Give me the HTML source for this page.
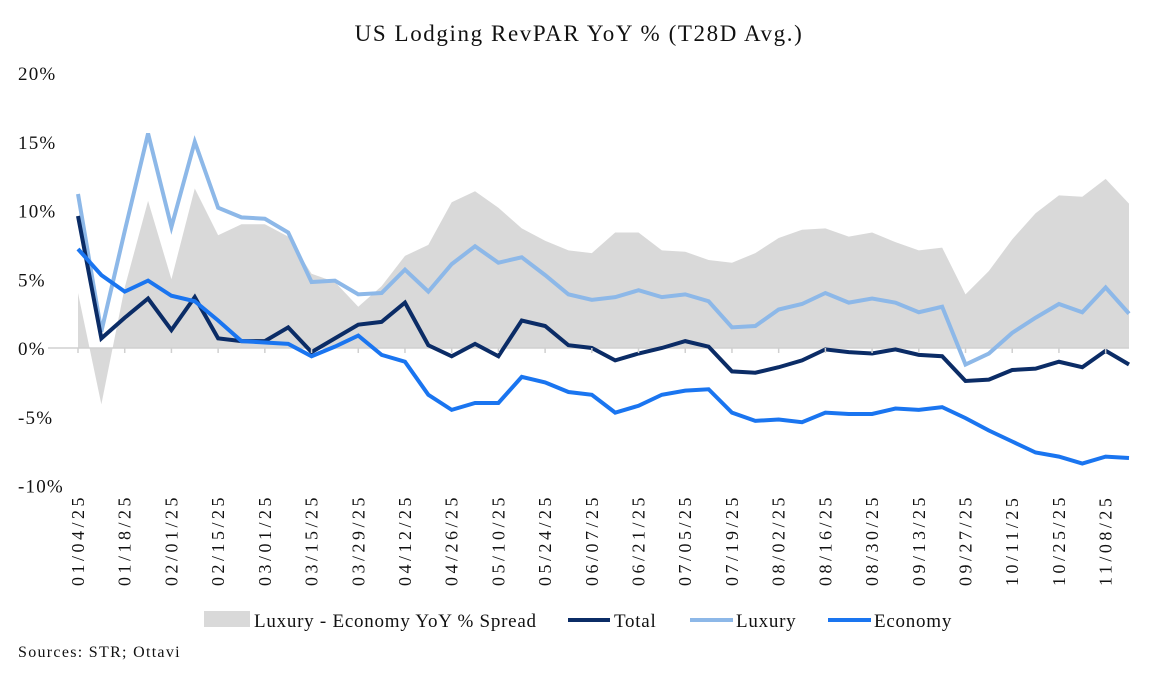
<!DOCTYPE html>
<html><head><meta charset="utf-8"><style>
body{margin:0;background:#fff;font-family:"Liberation Serif",serif;}
svg text{font-family:"Liberation Serif",serif;fill:#111;}
</style></head><body>
<svg id="chart" width="1154" height="681" viewBox="0 0 1154 681" xmlns="http://www.w3.org/2000/svg">
<text x="579" y="41" text-anchor="middle" font-size="23" letter-spacing="1.6">US Lodging RevPAR YoY % (T28D Avg.)</text>
<g id="yaxis"></g>
<g id="plot"></g>
<g id="xaxis"></g>
<g>
 <g><rect x="204" y="611" width="46" height="16" fill="#d9d9d9"/><text x="254" y="627" font-size="19" letter-spacing="0.75">Luxury - Economy YoY % Spread</text></g>
 <g><line x1="568" y1="620" x2="610" y2="620" stroke="#0b2c66" stroke-width="4"/><text x="614" y="627" font-size="19" letter-spacing="0.75">Total</text></g>
 <g><line x1="690" y1="620" x2="733" y2="620" stroke="#8db8e8" stroke-width="4"/><text x="736" y="627" font-size="19" letter-spacing="0.75">Luxury</text></g>
 <g><line x1="828" y1="620" x2="871" y2="620" stroke="#1a75f0" stroke-width="4"/><text x="874" y="627" font-size="19" letter-spacing="0.75">Economy</text></g>
</g>
<text x="18" y="657" font-size="16" letter-spacing="1.3">Sources: STR; Ottavi</text>
</svg>
<script>
const startDate = [2025,0,4];
const luxury = [11.2,1.2,8.5,15.6,8.8,15.0,10.2,9.5,9.4,8.4,4.8,4.9,3.9,4.0,5.7,4.1,6.1,7.4,6.2,6.6,5.3,3.9,3.5,3.7,4.2,3.7,3.9,3.4,1.5,1.6,2.8,3.2,4.0,3.3,3.6,3.3,2.6,3.0,-1.2,-0.4,1.1,2.2,3.2,2.6,4.4,2.5];
const economy = [7.2,5.3,4.1,4.9,3.8,3.4,2.0,0.5,0.4,0.3,-0.6,0.1,0.9,-0.5,-1.0,-3.4,-4.5,-4.0,-4.0,-2.1,-2.5,-3.2,-3.4,-4.7,-4.2,-3.4,-3.1,-3.0,-4.7,-5.3,-5.2,-5.4,-4.7,-4.8,-4.8,-4.4,-4.5,-4.3,-5.1,-6.0,-6.8,-7.6,-7.9,-8.4,-7.9,-8.0];
const total = [9.6,0.7,2.2,3.6,1.3,3.7,0.7,0.5,0.5,1.5,-0.3,0.7,1.7,1.9,3.3,0.2,-0.6,0.3,-0.6,2.0,1.6,0.2,0.0,-0.9,-0.4,0.0,0.5,0.1,-1.7,-1.8,-1.4,-0.9,-0.1,-0.3,-0.4,-0.1,-0.5,-0.6,-2.4,-2.3,-1.6,-1.5,-1.0,-1.4,-0.2,-1.2];
const spread = [4.0,-4.1,4.4,10.7,5.0,11.6,8.2,9.0,9.0,8.1,5.4,4.8,3.0,4.5,6.7,7.5,10.6,11.4,10.2,8.7,7.8,7.1,6.9,8.4,8.4,7.1,7.0,6.4,6.2,6.9,8.0,8.6,8.7,8.1,8.4,7.7,7.1,7.3,3.9,5.6,7.9,9.8,11.1,11.0,12.3,10.5];
const yTicks = [20,15,10,5,0,-5,-10];

const NS="http://www.w3.org/2000/svg";
const n = total.length;
const x0=78, x1=1129;
const X = i => x0 + (x1-x0)*i/(n-1);
const Y = v => 348 - v*13.75;
function mk(tag, attrs, parent){const e=document.createElementNS(NS,tag);for(const k in attrs)e.setAttribute(k,attrs[k]);parent.appendChild(e);return e;}
const plot=document.getElementById('plot'), xa=document.getElementById('xaxis'), ya=document.getElementById('yaxis');

yTicks.forEach(t=>{
  const tx=mk('text',{x:18,y:Y(t)+7,'font-size':19,'letter-spacing':1.2},ya);
  tx.textContent=t+'%';
  
  
});

let d='M'+X(0)+','+Y(0);
spread.forEach((v,i)=>{d+=' L'+X(i)+','+Y(v);});
d+=' L'+X(n-1)+','+Y(0)+' Z';
const area=mk('path',{d:d,fill:'#d9d9d9'},plot);



const axl=mk('line',{x1:x0-30,y1:Y(0),x2:x1,y2:Y(0),stroke:'#d0d0d0','stroke-width':1.5},plot);



function line(arr,color,name){
  const p=mk('polyline',{points:arr.map((v,i)=>X(i)+','+Y(v)).join(' '),fill:'none',stroke:color,'stroke-width':4,'stroke-linejoin':'miter'},plot);
  
  
}
line(luxury,'#8db8e8','luxury-line');
line(total,'#0b2c66','total-line');
line(economy,'#1a75f0','economy-line');

const pad=v=>String(v).padStart(2,'0');
for(let i=0;i<n;i+=2){
  const tk=mk('line',{x1:X(i),y1:Y(0),x2:X(i),y2:Y(0)+5,stroke:'#d0d0d0','stroke-width':1.5},xa);
  
  
  const dt=new Date(startDate[0],startDate[1],startDate[2]+7*i);
  const lbl=pad(dt.getMonth()+1)+'/'+pad(dt.getDate())+'/'+String(dt.getFullYear()).slice(2);
  const tx=mk('text',{x:0,y:0,'font-size':18,'letter-spacing':3.5,'text-anchor':'start',transform:'translate('+(X(i)+6)+',586) rotate(-90)'},xa);
  tx.textContent=lbl;
  
  
}
</script>
</body></html>
